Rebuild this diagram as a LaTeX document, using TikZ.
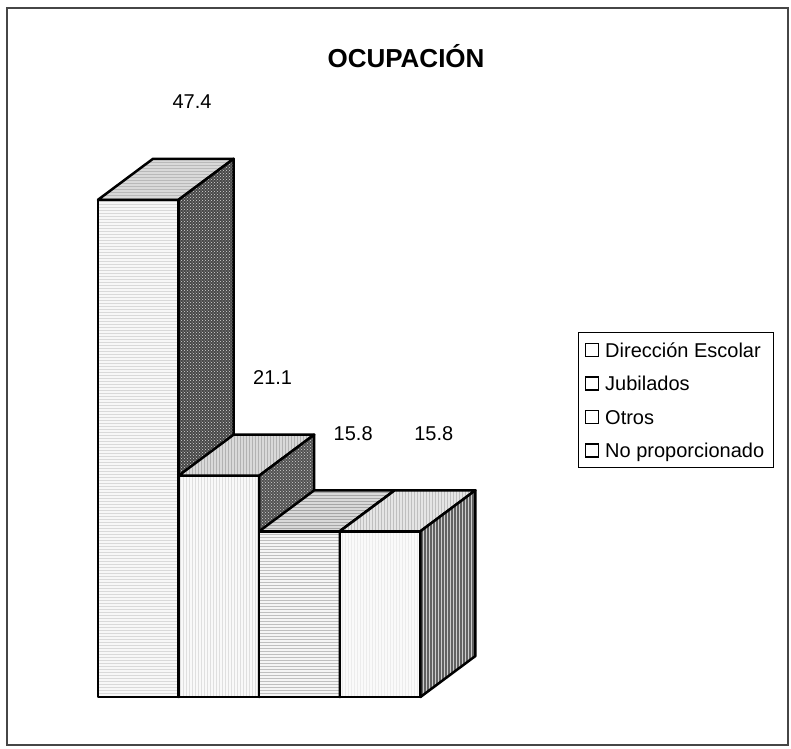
\documentclass[tikz,border=0pt]{standalone}
\usepackage{fontspec}
\setmainfont{Liberation Sans}
\usetikzlibrary{patterns}

\tikzset{
  marco/.style={draw=gray!55!black, line width=1.1pt},
  titulo/.style={anchor=base, inner sep=0pt, font=\fontsize{26}{30}\selectfont\bfseries},
  valor/.style={anchor=base, inner sep=0pt, font=\fontsize{20}{24}\selectfont},
  cara/.style={draw=black, line width=2.5pt, line join=round},
  dirfront/.style={cara, preaction={fill=gray!6}, pattern=horizontal lines, pattern color=gray!30},
  dirtop/.style={cara, preaction={fill=gray!30}, pattern=horizontal lines, pattern color=gray!55},
  dirside/.style={cara, preaction={fill=black!72}, pattern=crosshatch dots, pattern color=gray!30},
  jubfront/.style={cara, preaction={fill=gray!5}, pattern=vertical lines, pattern color=gray!25},
  jubtop/.style={cara, preaction={fill=gray!30}, pattern=vertical lines, pattern color=gray!60},
  jubside/.style={cara, preaction={fill=black!68}, pattern=crosshatch dots, pattern color=gray!35},
  otrfront/.style={cara, preaction={fill=gray!8}, pattern=horizontal lines, pattern color=gray!50},
  otrtop/.style={cara, preaction={fill=gray!30}, pattern=horizontal lines, pattern color=gray!70},
  otrside/.style={cara, preaction={fill=black!68}, pattern=crosshatch dots, pattern color=gray!35},
  nopfront/.style={cara, preaction={fill=gray!4}, pattern=vertical lines, pattern color=gray!15},
  noptop/.style={cara, preaction={fill=gray!20}, pattern=vertical lines, pattern color=gray!50},
  nopside/.style={cara, preaction={fill=black!62}, pattern=vertical lines, pattern color=gray!40},
  leyenda/.style={draw=black, line width=1pt, inner sep=0pt, minimum width=195pt, minimum height=135pt},
  marca/.style={draw=black, line width=1.6pt, fill=white, inner sep=0pt, minimum size=13pt},
  entrada/.style={anchor=base west, inner sep=0pt, font=\fontsize{20}{24}\selectfont}
}

\begin{document}
\begin{tikzpicture}[x=1pt,y=-1pt]
\useasboundingbox (0,0) rectangle (791,748);
\draw[marco] (7,8) rectangle (788,745);
\node[titulo] (tit) at (406,67) {OCUPACIÓN};
\foreach \x/\v/\fr/\tp/\sd [count=\k] in {98/47.4/dirfront/dirtop/dirside, 178.6/21.1/jubfront/jubtop/jubside, 259.2/15.8/otrfront/otrtop/otrside, 339.8/15.8/nopfront/noptop/nopside}{
  \pgfmathsetmacro\alto{697-10.49*\v}
  \path[\fr] (\x,697) rectangle (\x+80.6,\alto);
  \path[\tp] (\x,\alto) -- ++(55,-41) -- ++(80.6,0) -- ++(-55,41) -- cycle;
  \path[\sd] (\x+80.6,697) -- (\x+80.6,\alto) -- ++(55,-41) -- (\x+135.6,656) -- cycle;
  \node[valor] (val\k) at (\x+94,\alto-91) {\v};
}
\node[leyenda] (ley) at (675.5,399.5) {};
\foreach \txt [count=\k] in {Dirección Escolar, Jubilados, Otros, No proporcionado}{
  \node[marca] (m\k) at (592,316.5+33.5*\k) {};
  \node[entrada] (e\k) at (605,323.5+33.5*\k) {\txt};
}
\end{tikzpicture}
\end{document}
